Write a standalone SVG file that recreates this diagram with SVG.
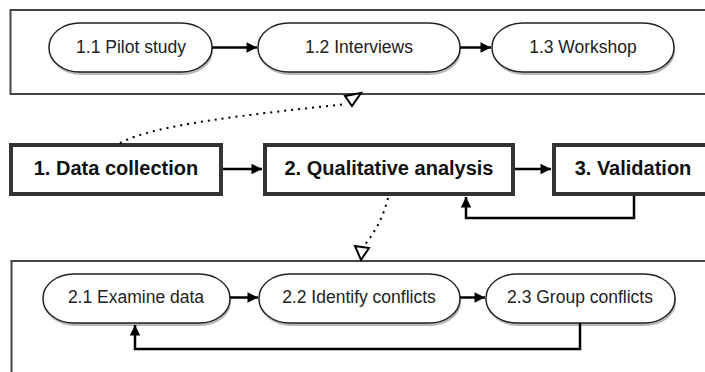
<svg xmlns="http://www.w3.org/2000/svg" width="705" height="372" viewBox="0 0 705 372">
<style>
.frame{fill:#fff;stroke:#444;stroke-width:2}
.pill{fill:#fff;stroke:#222;stroke-width:1.5}
.shadow{fill:#888;opacity:0.6}
.box{fill:#fff;stroke:#333;stroke-width:4}
.ptxt{font-family:"Liberation Sans",Arial,sans-serif;font-size:17.5px;fill:#222;text-anchor:middle;dominant-baseline:central}
.btxt{font-family:"Liberation Sans",Arial,sans-serif;font-size:20px;font-weight:bold;fill:#111;text-anchor:middle;dominant-baseline:central}
.arr{fill:none;stroke:#000;stroke-width:2.5;marker-end:url(#ah)}
.dot{fill:none;stroke:#000;stroke-width:2;stroke-dasharray:2 5}
.open{fill:#fff;stroke:#000;stroke-width:2;stroke-linejoin:miter}
</style>
<defs>
<marker id="ah" viewBox="0 0 10 10" refX="10" refY="5" markerWidth="4.8" markerHeight="4.2" orient="auto" markerUnits="strokeWidth">
<path d="M0,0 L10,5 L0,10 z" fill="#000"/>
</marker>
</defs>
<rect width="705" height="372" fill="#fff"/>

<g id="group1">
<rect class="frame" x="10.5" y="10" width="710" height="84"/>
</g>
<g id="group2">
<rect class="frame" x="11.5" y="261" width="710" height="130"/>
</g>

<g id="n11">
<rect class="shadow" x="50" y="26" width="163" height="49" rx="31" ry="24"/>
<rect class="pill" x="49" y="23" width="163" height="49" rx="31" ry="24"/>
<text class="ptxt" x="131" y="47">1.1 Pilot study</text>
</g>
<g id="n12">
<rect class="shadow" x="259" y="26" width="202" height="49" rx="31" ry="24"/>
<rect class="pill" x="258" y="23" width="202" height="49" rx="31" ry="24"/>
<text class="ptxt" x="359" y="47">1.2 Interviews</text>
</g>
<g id="n13">
<rect class="shadow" x="493" y="26" width="182" height="49" rx="31" ry="24"/>
<rect class="pill" x="492" y="23" width="182" height="49" rx="31" ry="24"/>
<text class="ptxt" x="583" y="47">1.3 Workshop</text>
</g>

<g id="n1">
<rect class="box" x="11" y="145" width="210" height="49"/>
<text class="btxt" x="116" y="168">1. Data collection</text>
</g>
<g id="n2">
<rect class="box" x="265" y="145" width="248" height="49"/>
<text class="btxt" x="389" y="168">2. Qualitative analysis</text>
</g>
<g id="n3">
<rect class="box" x="554" y="145" width="170" height="49"/>
<text class="btxt" x="633" y="168">3. Validation</text>
</g>

<g id="n21">
<rect class="shadow" x="44" y="277" width="187" height="49" rx="31" ry="24"/>
<rect class="pill" x="43" y="274" width="187" height="49" rx="31" ry="24"/>
<text class="ptxt" x="136" y="297">2.1 Examine data</text>
</g>
<g id="n22">
<rect class="shadow" x="260" y="277" width="201" height="49" rx="31" ry="24"/>
<rect class="pill" x="259" y="274" width="201" height="49" rx="31" ry="24"/>
<text class="ptxt" x="359" y="297">2.2 Identify conflicts</text>
</g>
<g id="n23">
<rect class="shadow" x="487" y="277" width="189" height="49" rx="31" ry="24"/>
<rect class="pill" x="486" y="274" width="189" height="49" rx="31" ry="24"/>
<text class="ptxt" x="580" y="297">2.3 Group conflicts</text>
</g>

<g id="connectors">
<path class="arr" d="M212,47.5 H257"/>
<path class="arr" d="M460,47.5 H491"/>
<path class="arr" d="M223,169 H262"/>
<path class="arr" d="M515,169 H551"/>
<path class="arr" d="M634,196 V218 H466 V197"/>
<path class="arr" d="M230,297.5 H258"/>
<path class="arr" d="M460,297.5 H485"/>
<path class="arr" d="M580,323 V349 H135 V325"/>
<path class="dot" d="M120,143 C155,124 255,114 346,104"/>
<polygon class="open" points="345,96 361,93 352,106"/>
<path class="dot" d="M388,198 Q381,226 363,247"/>
<polygon class="open" points="355,246 369,248 361,260"/>
</g>
</svg>
